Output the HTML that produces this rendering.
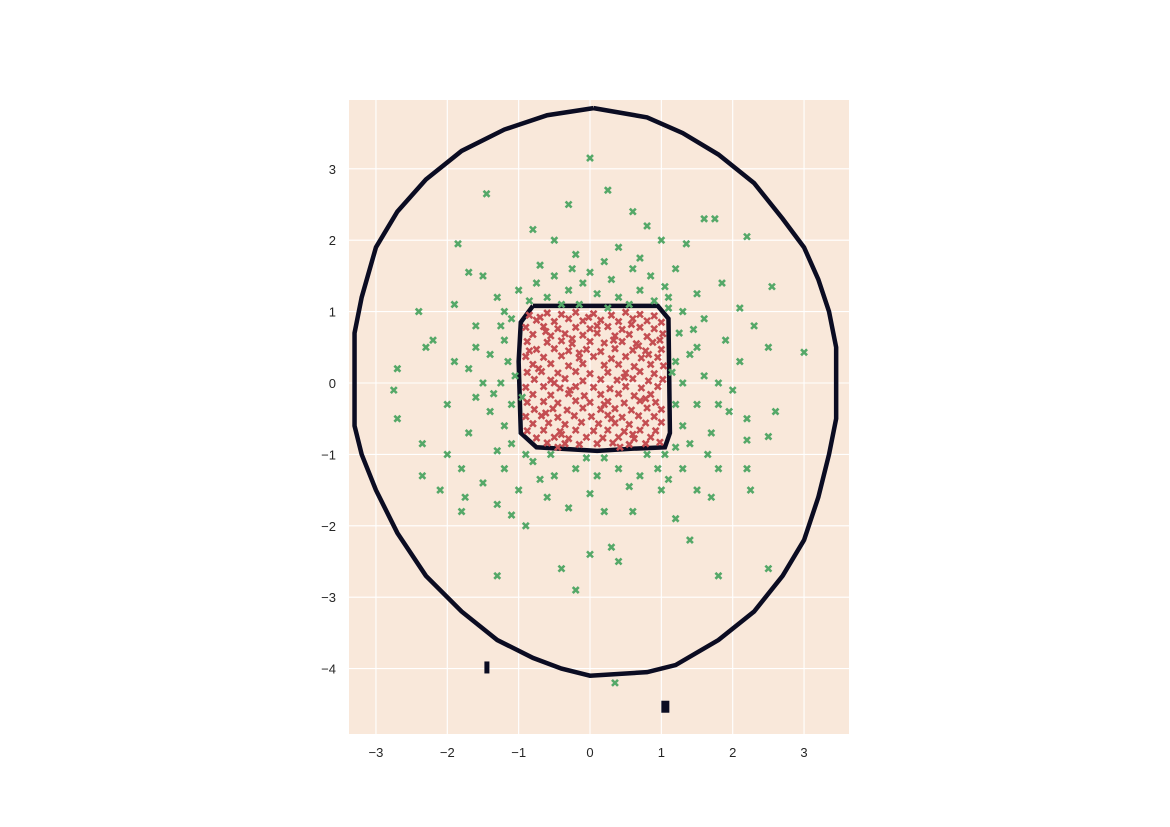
<!DOCTYPE html>
<html><head><meta charset="utf-8"><style>
html,body{margin:0;padding:0;background:#fff;}
svg{display:block;font-family:"Liberation Sans",sans-serif;}
</style></head><body>
<svg id="chart" width="1170" height="827">
<rect x="349" y="100" width="500" height="634" fill="#f9e8da"/>
<g id="grid"></g><g id="bound"></g><g id="pts"></g><g id="ticks"></g>
</svg>
<script>
const xTicks=[-3,-2,-1,0,1,2,3];
const yTicks=[3,2,1,0,-1,-2,-3,-4];
const outerRing=[[0.05,3.85],[0.8,3.72],[1.3,3.5],[1.8,3.2],[2.3,2.8],[2.7,2.3],[3.0,1.9],[3.2,1.45],[3.35,1.0],[3.45,0.5],[3.45,-0.5],[3.35,-1.0],[3.2,-1.6],[3.0,-2.2],[2.7,-2.7],[2.3,-3.2],[1.8,-3.6],[1.2,-3.95],[0.8,-4.05],[0,-4.1],[-0.4,-4.0],[-0.8,-3.85],[-1.3,-3.6],[-1.8,-3.2],[-2.3,-2.7],[-2.7,-2.1],[-3.0,-1.5],[-3.2,-1.0],[-3.3,-0.6],[-3.3,0.7],[-3.2,1.2],[-3.0,1.9],[-2.7,2.4],[-2.3,2.85],[-1.8,3.25],[-1.2,3.55],[-0.6,3.75],[0.05,3.85]];
const innerRing=[[-0.8,1.08],[0.95,1.08],[1.1,0.9],[1.12,-0.7],[1.05,-0.9],[0.6,-0.92],[0.1,-0.95],[-0.75,-0.9],[-0.97,-0.7],[-1.0,0.3],[-0.97,0.85],[-0.8,1.08]];
const redPts="-0.85,0.95;-0.6,0.98;-0.4,0.96;-0.2,0.99;0.05,0.97;0.3,0.95;0.5,0.99;0.7,0.96;0.9,0.94;-0.75,0.88;-0.5,0.86;-0.3,0.9;-0.1,0.87;0.15,0.88;0.4,0.86;0.6,0.9;0.8,0.87;1.0,0.85;-0.9,0.78;-0.65,0.79;-0.45,0.76;-0.2,0.78;0.0,0.76;0.25,0.79;0.45,0.75;0.7,0.78;0.9,0.76;-0.8,0.68;-0.55,0.66;-0.35,0.69;-0.1,0.67;0.1,0.7;0.35,0.66;0.55,0.68;0.8,0.65;1.02,0.69;-0.88,0.58;-0.6,0.57;-0.4,0.59;-0.25,0.55;0.0,0.58;0.2,0.56;0.45,0.58;0.65,0.55;0.88,0.57;-0.75,0.47;-0.5,0.48;-0.3,0.45;-0.05,0.47;0.15,0.44;0.35,0.48;0.6,0.46;0.78,0.45;1.0,0.47;-0.9,0.37;-0.65,0.36;-0.4,0.38;-0.15,0.35;0.05,0.37;0.3,0.34;0.5,0.37;0.72,0.35;0.95,0.36;-0.8,0.26;-0.55,0.27;-0.3,0.24;-0.1,0.27;0.2,0.25;0.4,0.26;0.62,0.23;0.85,0.26;1.03,0.24;-0.88,0.15;-0.68,0.16;-0.45,0.14;-0.2,0.16;0.0,0.13;0.25,0.15;0.5,0.14;0.7,0.16;0.9,0.13;-0.78,0.05;-0.55,0.04;-0.35,0.06;-0.1,0.03;0.15,0.05;0.38,0.04;0.6,0.06;0.82,0.03;1.02,0.05;-0.9,-0.06;-0.65,-0.05;-0.42,-0.07;-0.2,-0.05;0.05,-0.06;0.28,-0.08;0.5,-0.05;0.72,-0.07;0.95,-0.05;-0.8,-0.16;-0.55,-0.17;-0.3,-0.15;-0.08,-0.18;0.15,-0.16;0.4,-0.15;0.62,-0.18;0.85,-0.16;-0.88,-0.27;-0.65,-0.26;-0.45,-0.28;-0.2,-0.25;0.0,-0.27;0.25,-0.26;0.48,-0.28;0.7,-0.25;0.92,-0.27;-0.78,-0.37;-0.52,-0.36;-0.32,-0.38;-0.1,-0.35;0.15,-0.37;0.35,-0.36;0.58,-0.38;0.8,-0.35;1.0,-0.37;-0.9,-0.47;-0.68,-0.46;-0.45,-0.48;-0.22,-0.46;0.02,-0.47;0.25,-0.45;0.45,-0.48;0.68,-0.46;0.9,-0.47;-0.8,-0.57;-0.58,-0.56;-0.35,-0.58;-0.12,-0.55;0.12,-0.57;0.35,-0.56;0.55,-0.58;0.78,-0.56;1.0,-0.55;-0.88,-0.67;-0.65,-0.66;-0.42,-0.68;-0.2,-0.66;0.05,-0.67;0.25,-0.66;0.48,-0.68;0.7,-0.66;0.92,-0.67;-0.75,-0.77;-0.5,-0.76;-0.3,-0.78;-0.05,-0.76;0.18,-0.77;0.4,-0.76;0.62,-0.78;0.85,-0.76;-0.6,-0.84;-0.35,-0.85;-0.15,-0.86;0.1,-0.85;0.32,-0.84;0.55,-0.86;0.78,-0.85;0.98,-0.83;-0.7,0.92;-0.02,0.92;0.58,0.82;-0.62,0.72;0.33,0.6;-0.15,0.42;0.82,0.4;-0.72,0.2;0.48,0.08;-0.28,-0.1;0.78,-0.22;-0.62,-0.42;0.3,-0.5;-0.4,-0.72;0.6,-0.72;0.1,0.8;-0.85,0.45;0.98,0.6;-0.5,0.0;0.2,-0.3;0.68,0.52;-0.25,0.62;0.42,-0.9;-0.45,-0.9";
const greenPts="-0.6,1.2;-0.3,1.3;0.1,1.25;0.4,1.2;0.7,1.3;0.9,1.15;-0.85,1.15;-0.5,1.5;0.0,1.55;0.3,1.45;0.6,1.6;-0.2,1.8;0.4,1.9;-0.7,1.65;0.85,1.5;-1.1,0.9;-1.2,0.6;-1.15,0.3;-1.25,0.0;-1.1,-0.3;-1.2,-0.6;-1.1,-0.85;-1.4,0.4;-1.5,0.0;-1.4,-0.4;-1.6,0.8;-1.7,-0.7;-1.9,0.3;-2.0,-0.3;-2.2,0.6;-1.3,1.2;-1.5,1.5;-1.9,1.1;-2.4,1.0;-2.7,0.2;-2.75,-0.1;-2.7,-0.5;-2.35,-1.3;-2.0,-1.0;-1.8,-1.2;-1.5,-1.4;-1.2,-1.2;-1.0,-1.5;-1.3,-1.7;-1.8,-1.8;-2.1,-1.5;-1.85,1.95;-1.45,2.65;-1.7,1.55;1.3,1.0;1.25,0.7;1.2,0.3;1.3,0.0;1.2,-0.3;1.3,-0.6;1.2,-0.9;1.5,0.5;1.6,0.1;1.5,-0.3;1.7,-0.7;1.6,0.9;1.9,0.6;2.0,-0.1;2.1,0.3;2.2,-0.5;2.3,0.8;2.5,0.5;2.6,-0.4;2.5,-0.75;2.2,-0.8;3.0,0.43;2.55,1.35;2.1,1.05;1.85,1.4;1.5,1.25;1.2,1.6;1.35,1.95;1.6,2.3;1.75,2.3;2.2,2.05;1.0,2.0;0.8,2.2;0.25,2.7;-0.3,2.5;0.0,3.15;-0.8,2.15;-0.5,2.0;0.6,2.4;1.3,-1.2;1.5,-1.5;1.0,-1.5;0.7,-1.3;0.4,-1.2;0.1,-1.3;-0.2,-1.2;-0.5,-1.3;-0.8,-1.1;-0.6,-1.6;-0.3,-1.75;0.2,-1.8;0.6,-1.8;1.2,-1.9;1.7,-1.6;1.8,-1.2;2.2,-1.2;2.25,-1.5;0.3,-2.3;0.0,-2.4;-0.4,-2.6;-0.2,-2.9;0.4,-2.5;1.4,-2.2;1.8,-2.7;2.5,-2.6;-1.3,-2.7;-0.9,-2.0;-1.1,-1.85;-1.75,-1.6;-0.95,-0.2;-1.05,0.1;1.15,0.15;1.05,-1.0;-0.9,-1.0;0.35,-4.2;-0.15,1.1;0.55,1.1;0.25,1.05;-0.4,1.1;1.1,1.05;-1.25,0.8;1.4,0.4;-1.35,-0.15;0.8,-1.0;-0.55,-1.0;0.2,-1.05;-0.05,-1.05;0.95,-1.2;-1.0,1.3;1.05,1.35;-0.1,1.4;-2.35,-0.85;-2.3,0.5;-1.7,0.2;1.8,0.0;1.95,-0.4;-1.6,-0.2;1.65,-1.0;-0.75,1.4;-0.25,1.6;0.2,1.7;0.7,1.75;1.1,1.2;-1.2,1.0;-1.6,0.5;-1.3,-0.95;-0.7,-1.35;0.0,-1.55;0.55,-1.45;1.1,-1.35;1.4,-0.85;1.45,0.75;1.8,-0.3";
function sx(v){return 590+v*71.35;}
function sy(v){return 383-v*71.4;}
const ns='http://www.w3.org/2000/svg';
function mk(p,t,a){const e=document.createElementNS(ns,t);for(const k in a)e.setAttribute(k,a[k]);p.appendChild(e);return e;}
const grid=document.getElementById('grid'),tk=document.getElementById('ticks');
xTicks.forEach(v=>{
 const l=mk(grid,'line',{x1:sx(v),x2:sx(v),y1:100,y2:734,stroke:'#fff','stroke-width':1.1});
 
 
 const t=mk(tk,'text',{x:sx(v),y:757,'text-anchor':'middle','font-size':13,fill:'#262626'});
 t.textContent=v<0?'\u2212'+(-v):v;
 
 
});
yTicks.forEach(v=>{
 const l=mk(grid,'line',{x1:349,x2:849,y1:sy(v),y2:sy(v),stroke:'#fff','stroke-width':1.1});
 
 
 const t=mk(tk,'text',{x:336,y:sy(v)+5,'text-anchor':'end','font-size':13,fill:'#262626'});
 t.textContent=v<0?'\u2212'+(-v):v;
 
 
});
const bd=document.getElementById('bound');
[[outerRing,'outer-decision-boundary'],[innerRing,'inner-decision-boundary']].forEach(([r,n])=>{
 const p=mk(bd,'polyline',{points:r.map(q=>sx(q[0])+','+sy(q[1])).join(' '),fill:'none',stroke:'#0b0c22','stroke-width':4.5,'stroke-linejoin':'miter'});
 
 
});
const a1=mk(bd,'rect',{x:sx(-1.48),y:sy(-3.9),width:5,height:12,fill:'#0b0c22'});


const a2=mk(bd,'rect',{x:sx(1.0),y:sy(-4.45),width:8,height:12,fill:'#0b0c22'});


const pg=document.getElementById('pts');
function drawPts(s,col,name){
 s.split(';').forEach(q=>{const [x,y]=q.split(',').map(Number);
  const X=sx(x),Y=sy(y),d=3;
  const p=mk(pg,'path',{d:`M${X-d},${Y-d}L${X+d},${Y+d}M${X-d},${Y+d}L${X+d},${Y-d}`,stroke:col,'stroke-width':2.6});
  
  
 });
}
drawPts(greenPts,'#55a868','green-point');
drawPts(redPts,'#c44e52','red-point');
</script>
</body></html>
